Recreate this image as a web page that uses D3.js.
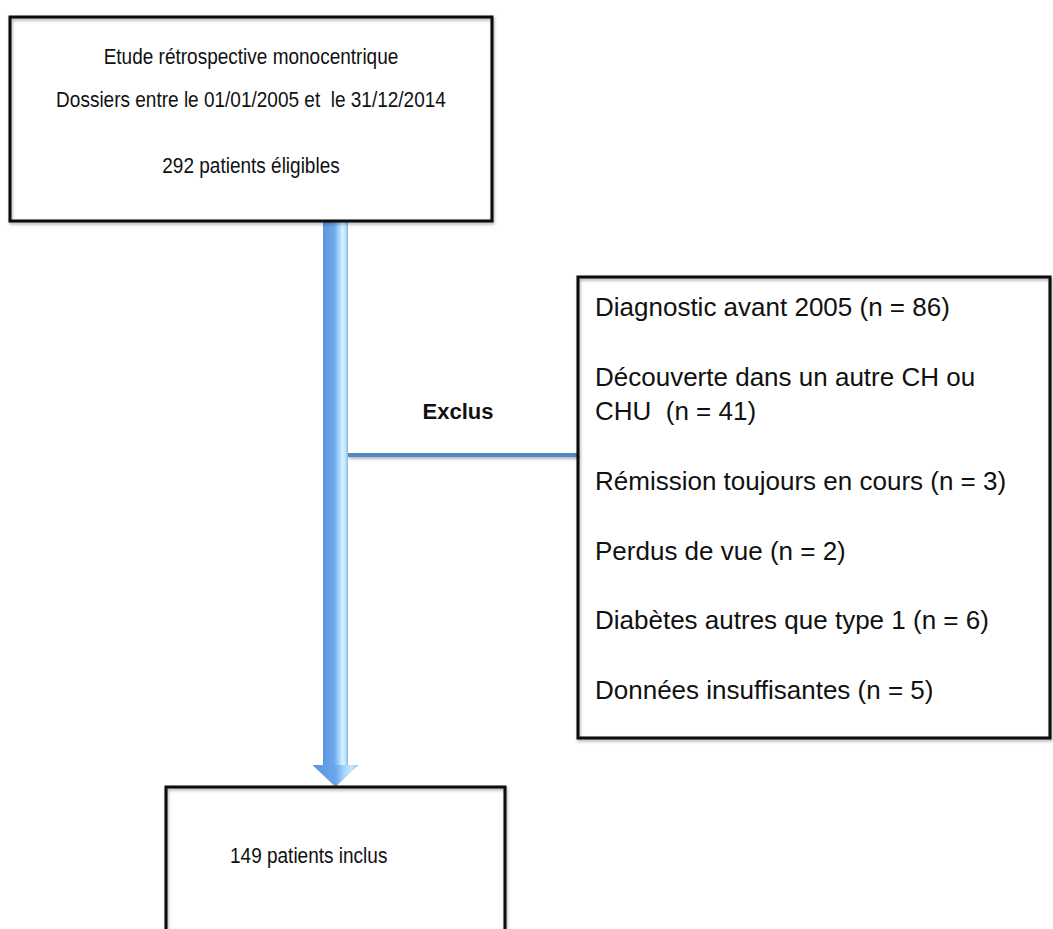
<!DOCTYPE html>
<html><head><meta charset="utf-8">
<script src="https://cdn.jsdelivr.net/npm/d3@7"></script>
<style>
body{margin:0;background:#fff}
svg{display:block}
text{font-family:'Liberation Sans',Arial,sans-serif;fill:#111;white-space:pre}
</style>
</head><body><script>
// ---- data ----
const studyLines = ["Etude rétrospective monocentrique", "Dossiers entre le 01/01/2005 et  le 31/12/2014"];
const eligibleCount = 292;
const eligibleLabel = "patients éligibles";
const includedCount = 149;
const includedLabel = "patients inclus";
const excludedTitle = "Exclus";
const exclusionReasons = [
  ["Diagnostic avant 2005"],
  ["Découverte dans un autre CH ou", "CHU "],
  ["Rémission toujours en cours"],
  ["Perdus de vue"],
  ["Diabètes autres que type 1"],
  ["Données insuffisantes"]
];
const exclusionCounts = [86, 41, 3, 2, 6, 5];

// ---- layout ----
const W = 1053, H = 929;
const svg = d3.select("body").append("svg").attr("width", W).attr("height", H);
const defs = svg.append("defs");
const f = defs.append("filter").attr("id", "sh").attr("filterUnits", "userSpaceOnUse")
  .attr("x", 0).attr("y", 0).attr("width", W).attr("height", H);
f.append("feDropShadow").attr("dx", 1).attr("dy", 2).attr("stdDeviation", 1.4).attr("flood-color", "#000").attr("flood-opacity", 0.3);

const shaft = {x: 323, w: 25, y0: 221, y1: 765, headW: 46, tip: 787};
const g = defs.append("linearGradient").attr("id", "blue").attr("gradientUnits", "userSpaceOnUse")
  .attr("x1", shaft.x).attr("x2", shaft.x + shaft.w).attr("y1", 0).attr("y2", 0);
[[0, "#5b95dc"], [0.45, "#6fa9ec"], [0.62, "#9fd0fb"], [0.78, "#d4f1ff"], [0.9, "#bfe2fa"], [1, "#86b3e0"]]
  .forEach(([o, c]) => g.append("stop").attr("offset", o).attr("stop-color", c));
const gh = defs.append("linearGradient").attr("id", "blueHead").attr("gradientUnits", "userSpaceOnUse")
  .attr("x1", shaft.x + shaft.w / 2 - shaft.headW / 2).attr("x2", shaft.x + shaft.w / 2 + shaft.headW / 2).attr("y1", 0).attr("y2", 0);
[[0, "#5a94dc"], [0.5, "#6aa6ea"], [0.7, "#a8d6fb"], [0.85, "#c6e8fd"], [1, "#8db9e4"]]
  .forEach(([o, c]) => gh.append("stop").attr("offset", o).attr("stop-color", c));

// connector line (behind)
const cy = 455;
svg.append("line").attr("x1", shaft.x + shaft.w).attr("x2", 578).attr("y1", cy).attr("y2", cy)
  .attr("stroke", "#4d88c9").attr("stroke-width", 4).attr("filter", "url(#sh)");

// arrow
const cx = shaft.x + shaft.w / 2;
svg.append("rect").attr("x", shaft.x).attr("y", shaft.y0).attr("width", shaft.w).attr("height", shaft.y1 - shaft.y0)
  .attr("fill", "url(#blue)");
svg.append("path")
  .attr("d", d3.line()([[cx - shaft.headW / 2, shaft.y1], [cx + shaft.headW / 2, shaft.y1], [cx, shaft.tip]]) + "Z")
  .attr("fill", "url(#blueHead)");

// boxes
const boxes = [
  {x: 10, y: 17, w: 482, h: 204},
  {x: 578, y: 277, w: 472, h: 461},
  {x: 166, y: 787, w: 339, h: 200}
];
svg.selectAll("rect.box").data(boxes).join("rect").attr("class", "box")
  .attr("x", d => d.x).attr("y", d => d.y).attr("width", d => d.w).attr("height", d => d.h)
  .attr("fill", "none").attr("stroke", "#0a0a0a").attr("stroke-width", 3).attr("filter", "url(#sh)");

// narrow, tall text (Calibri-like proportions): larger size, compressed width
const TALL = 22, WIDE = 19;
function condense(sel) {
  sel.each(function () {
    const w = this.getComputedTextLength() * WIDE / TALL;
    d3.select(this).attr("textLength", w).attr("lengthAdjust", "spacingAndGlyphs");
  });
}

// top box text
const topCx = boxes[0].x + boxes[0].w / 2;
const topLineY = d3.scaleLinear().domain([0, 1]).range([64, 107]);
svg.selectAll("text.study").data(studyLines).join("text").attr("class", "study")
  .attr("x", topCx).attr("y", (d, i) => topLineY(i)).attr("text-anchor", "middle")
  .attr("font-size", TALL).text(d => d).call(condense);
svg.append("text").attr("x", topCx).attr("y", 173).attr("text-anchor", "middle")
  .attr("font-size", TALL).text(`${eligibleCount} ${eligibleLabel}`).call(condense);

// Exclus
svg.append("text").attr("x", 458).attr("y", 419).attr("text-anchor", "middle")
  .attr("font-size", 22).attr("font-weight", "bold").text(excludedTitle);

// exclusion list
const lineStep = 34.8;
let slot = 0;
const items = exclusionReasons.map((lines, i) => {
  const start = slot;
  slot += lines.length + 1;
  return {lines, n: exclusionCounts[i], start};
});
const yLine = d3.scaleLinear().domain([0, 1]).range([316, 316 + lineStep]);
const tx = boxes[1].x + 17;
items.forEach(it => {
  it.lines.forEach((ln, j) => {
    const last = j === it.lines.length - 1;
    svg.append("text").attr("x", tx).attr("y", yLine(it.start + j))
      .attr("font-size", 26).text(last ? `${ln} (n = ${it.n})` : ln);
  });
});

// bottom box
svg.append("text").attr("x", 230).attr("y", 863).attr("font-size", TALL)
  .text(`${includedCount} ${includedLabel}`).call(condense);
</script></body></html>
